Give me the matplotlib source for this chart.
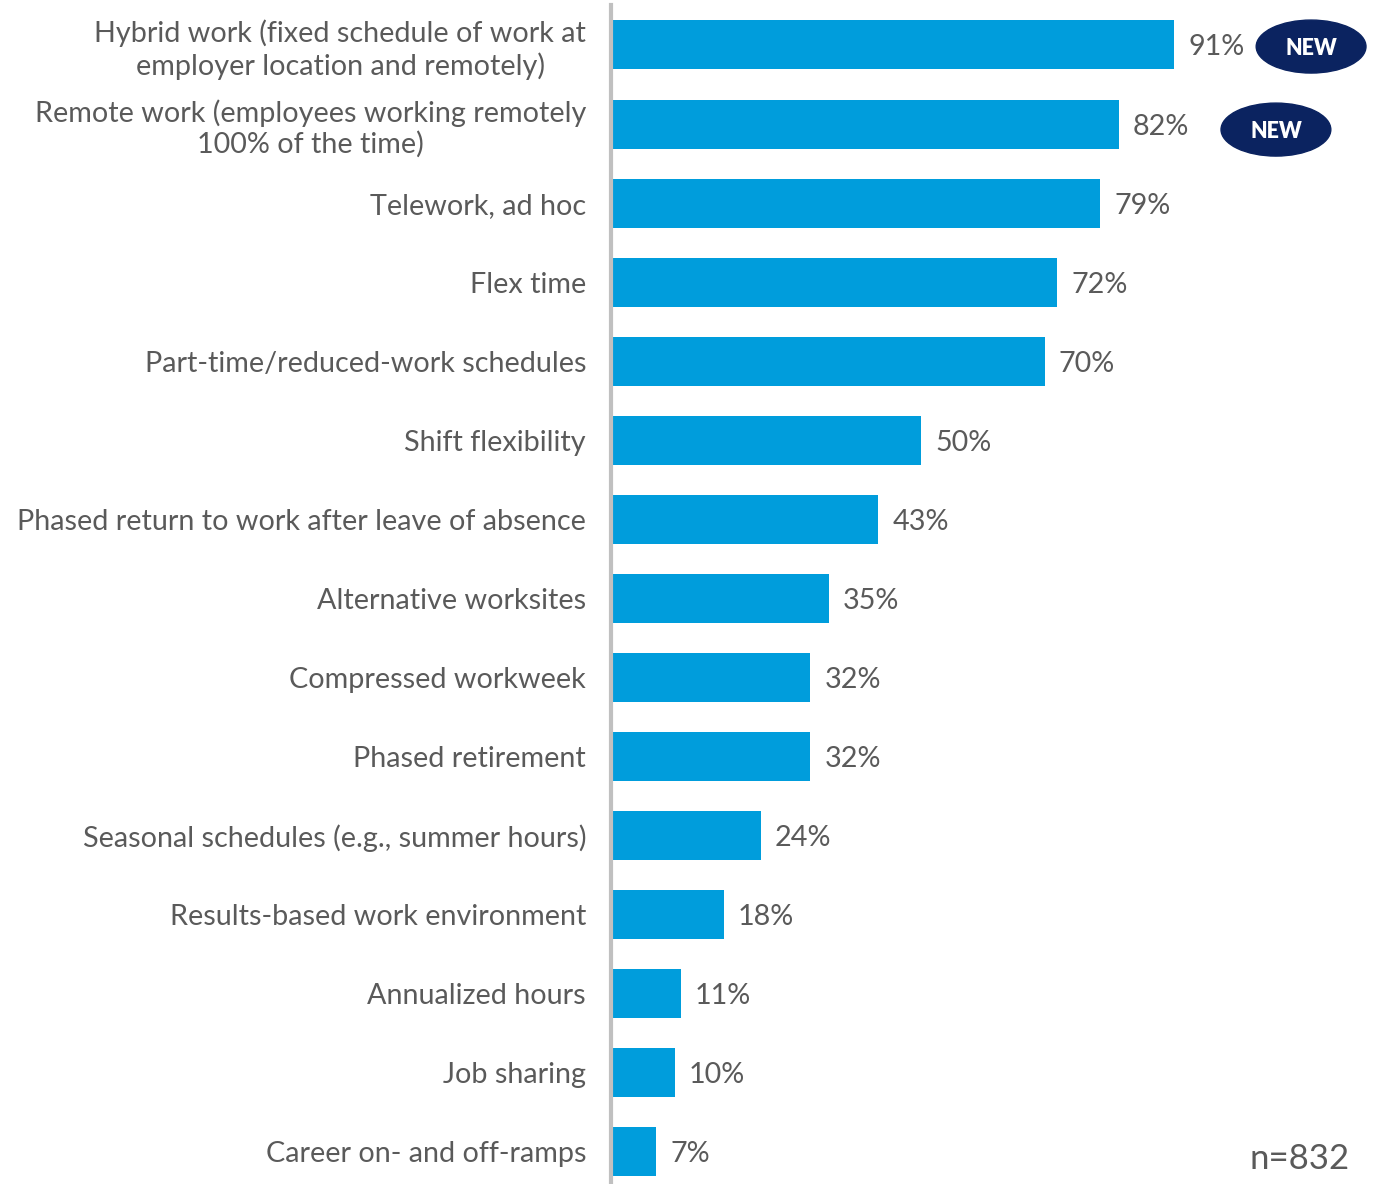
import matplotlib.pyplot as plt
from matplotlib.patches import Ellipse
from matplotlib.transforms import ScaledTranslation

categories = [
    "Hybrid work (fixed schedule of work at\nemployer location and remotely)",
    "Remote work (employees working remotely\n100% of the time)",
    "Telework, ad hoc",
    "Flex time",
    "Part-time/reduced-work schedules",
    "Shift flexibility",
    "Phased return to work after leave of absence",
    "Alternative worksites",
    "Compressed workweek",
    "Phased retirement",
    "Seasonal schedules (e.g., summer hours)",
    "Results-based work environment",
    "Annualized hours",
    "Job sharing",
    "Career on- and off-ramps",
]
values = [91, 82, 79, 72, 70, 50, 43, 35, 32, 32, 24, 18, 11, 10, 7]
is_new = [True, True] + [False] * 13
sample_note = "n=832"

BAR = "#009ddc"
NAVY = "#0b2360"
TEXT = "#5a5a5a"

plt.rcParams["font.family"] = ["Lato", "DejaVu Sans"]

fig = plt.figure(figsize=(13.74, 11.84), dpi=100)
ax = fig.add_axes([0.4447, 0.0, 0.5553, 0.9958])

y = list(range(len(categories)))
ax.barh(y, values, height=0.62, color=BAR, left=0.3)

ax.set_xlim(0, 123.7)
ax.set_ylim(14.405, -0.506)

for s in ["top", "right", "bottom"]:
    ax.spines[s].set_visible(False)
ax.spines["left"].set_color("#c0c0c0")
ax.spines["left"].set_linewidth(3)
ax.set_xticks([])
ax.set_yticks(y)
ax.set_yticklabels(categories, fontsize=20.7, color=TEXT,
                   linespacing=1.2, ha="right")
lift = ScaledTranslation(0, 2.5 / 72, fig.dpi_scale_trans)
for lbl in ax.get_yticklabels():
    lbl.set_multialignment("center")
    if "\n" in lbl.get_text():
        # nudge two-line labels up a little
        lbl.set_transform(lbl.get_transform() + lift)
ax.tick_params(axis="y", length=0, pad=18)

# the two NEW badges sit a little differently after their labels
badge_shift = {0: (22.5, 0.02), 1: (25.8, 0.07)}

for i, (v, new) in enumerate(zip(values, is_new)):
    ax.text(v + 2.6, i, f"{v}%", va="center_baseline", ha="left", fontsize=20.7,
            color=TEXT)
    if new:
        dx, dy = badge_shift.get(i, (24, 0.04))
        ax.add_patch(Ellipse((v + dx, i + dy), 17.8, 0.67, color=NAVY,
                             clip_on=False))
        ax.text(v + dx, i + dy, "NEW", ha="center", va="center_baseline",
                fontsize=15.5, color="white", fontweight="heavy")

fig.text(0.982, 0.008, sample_note, ha="right", va="bottom", fontsize=25,
         color=TEXT)

fig.savefig("out.png", dpi=100)
